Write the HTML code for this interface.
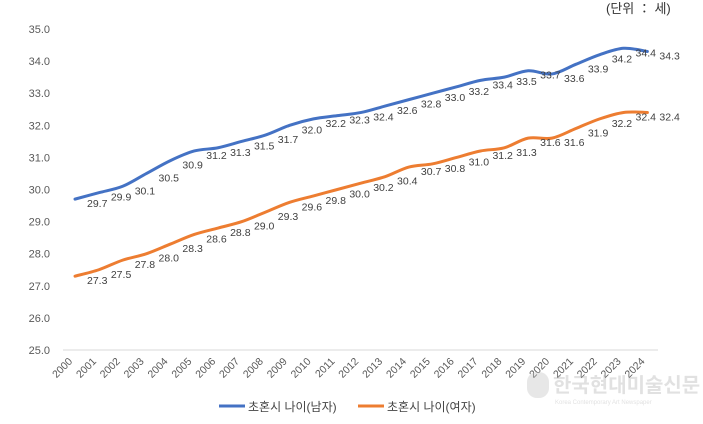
<!DOCTYPE html>
<html><head><meta charset="utf-8"><style>
body{margin:0;background:#fff;width:703px;height:424px;overflow:hidden}
svg{display:block;font-family:"Liberation Sans","Noto Sans CJK KR",sans-serif}
</style></head><body>
<svg id="chart" width="703" height="424">
<text x="606" y="13" font-size="13" fill="#333">(단위 ： 세)</text>
<g id="yaxis"></g><g id="xaxis"></g><g id="series"></g>
<g opacity="0.35">
<rect x="527" y="372" width="22" height="26" rx="10" fill="#bbb"/>
<text x="553" y="392" font-size="20" font-weight="bold" fill="#aaa">한국현대미술신문</text>
<text x="555" y="404" font-size="6" fill="#aaa">Korea Contemporary Art Newspaper</text>
</g>
<g>
<line x1="219" y1="406" x2="245" y2="406" stroke="#4472C4" stroke-width="3"/>
<text x="248" y="411" font-size="12" fill="#444">초혼시 나이(남자)</text>
<line x1="358" y1="406" x2="384" y2="406" stroke="#ED7D31" stroke-width="3"/>
<text x="387" y="411" font-size="12" fill="#444">초혼시 나이(여자)</text>
</g>
</svg>
<script>
const years=["2000","2001","2002","2003","2004","2005","2006","2007","2008","2009","2010","2011","2012","2013","2014","2015","2016","2017","2018","2019","2020","2021","2022","2023","2024"];
const male=[29.7,29.9,30.1,30.5,30.9,31.2,31.3,31.5,31.7,32.0,32.2,32.3,32.4,32.6,32.8,33.0,33.2,33.4,33.5,33.7,33.6,33.9,34.2,34.4,34.3];
const female=[27.3,27.5,27.8,28.0,28.3,28.6,28.8,29.0,29.3,29.6,29.8,30.0,30.2,30.4,30.7,30.8,31.0,31.2,31.3,31.6,31.6,31.9,32.2,32.4,32.4];
const yTicks=[25,26,27,28,29,30,31,32,33,34,35];
const NS="http://www.w3.org/2000/svg";
const X=i=>75+i*23.85, Y=v=>350-(v-25)*32.1;
function mk(tag,attrs,parent){const e=document.createElementNS(NS,tag);for(const k in attrs)e.setAttribute(k,attrs[k]);parent.appendChild(e);return e;}
const ya=document.getElementById('yaxis'),xa=document.getElementById('xaxis'),sg=document.getElementById('series');
yTicks.forEach(t=>{const e=mk('text',{x:50,y:Y(t)+4,'text-anchor':'end','font-size':11,fill:'#595959'},ya);e.textContent=t.toFixed(1);

});
const base=mk('line',{x1:63,x2:658,y1:Y(25),y2:Y(25),stroke:'#d9d9d9','stroke-width':1},xa);


years.forEach((y,i)=>{const x=X(i)-2,yy=Y(25)+12;const e=mk('text',{x:x,y:yy,'text-anchor':'end','font-size':10.5,fill:'#595959',transform:`rotate(-45 ${x} ${yy})`},xa);e.textContent=y;

});
function path(vals){const p=vals.map((v,i)=>[X(i),Y(v)]);let d=`M${p[0][0]},${p[0][1]}`;
for(let i=0;i<p.length-1;i++){const p0=p[i-1]||p[i],p1=p[i],p2=p[i+1],p3=p[i+2]||p2;const t=6;
d+=` C${p1[0]+(p2[0]-p0[0])/t},${p1[1]+(p2[1]-p0[1])/t} ${p2[0]-(p3[0]-p1[0])/t},${p2[1]-(p3[1]-p1[1])/t} ${p2[0]},${p2[1]}`;}return d;}
[[male,'#4472C4','male'],[female,'#ED7D31','female']].forEach(([vals,c,n])=>{
const l=mk('path',{d:path(vals),fill:'none',stroke:c,'stroke-width':3,'stroke-linecap':'round'},sg);


vals.forEach((v,i)=>{const e=mk('text',{x:X(i)+12,y:Y(v)+8,'font-size':10.5,fill:'#404040'},sg);e.textContent=v.toFixed(1);

});});
</script>
</body></html>
